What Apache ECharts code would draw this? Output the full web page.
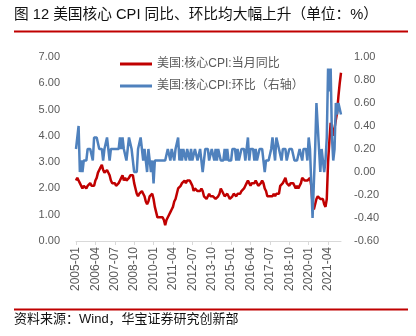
<!DOCTYPE html>
<html><head><meta charset="utf-8">
<script src="https://cdn.jsdelivr.net/npm/echarts@6/dist/echarts.min.js"></script>
<style>html,body{margin:0;padding:0;background:#fff}#c{width:416px;height:336px}</style>
</head><body><div id="c"></div>
<script>
// Month categories 2005-01 .. 2022-02
const firstYear = 2005;
const monthCount = 206;
const categories = [];
for (let i = 0; i < monthCount; i++) {
  const y = firstYear + Math.floor(i / 12);
  const m = (i % 12) + 1;
  categories.push(y + '-' + (m < 10 ? '0' + m : '' + m));
}

const seriesNames = ['美国:核心CPI:当月同比', '美国:核心CPI:环比（右轴）'];

// 美国:核心CPI:当月同比 (%), left axis
const coreYoY = [
  2.3,2.4,2.3,2.2,2.2,2.0,2.1,2.1,2.0,2.1,2.1,2.2,
  2.1,2.1,2.1,2.3,2.4,2.6,2.7,2.8,2.9,2.7,2.6,2.6,
  2.7,2.7,2.5,2.3,2.2,2.2,2.2,2.1,2.1,2.2,2.3,2.4,
  2.5,2.3,2.4,2.3,2.3,2.4,2.5,2.5,2.5,2.2,2.0,1.8,
  1.7,1.8,1.8,1.9,1.8,1.7,1.5,1.4,1.5,1.7,1.7,1.8,
  1.6,1.3,1.1,0.9,0.9,0.9,0.9,0.9,0.8,0.6,0.8,0.8,
  1.0,1.1,1.2,1.3,1.5,1.6,1.8,2.0,2.0,2.1,2.2,2.2,
  2.3,2.2,2.3,2.3,2.3,2.2,2.1,1.9,2.0,2.0,1.9,1.9,
  1.9,2.0,1.9,1.7,1.7,1.6,1.7,1.8,1.7,1.7,1.7,1.7,
  1.6,1.6,1.7,1.8,2.0,1.9,1.9,1.7,1.7,1.8,1.7,1.6,
  1.6,1.7,1.8,1.8,1.7,1.8,1.8,1.8,1.9,1.9,2.0,2.1,
  2.2,2.3,2.2,2.1,2.2,2.2,2.2,2.3,2.2,2.1,2.1,2.2,
  2.3,2.2,2.0,1.9,1.7,1.7,1.7,1.7,1.7,1.8,1.7,1.8,
  1.8,1.8,2.1,2.1,2.2,2.3,2.4,2.2,2.2,2.1,2.2,2.2,
  2.2,2.1,2.0,2.1,2.0,2.1,2.2,2.4,2.4,2.3,2.3,2.3,
  2.3,2.4,2.1,1.4,1.2,1.2,1.6,1.7,1.7,1.6,1.6,1.6,
  1.4,1.3,1.6,3.0,3.8,4.5,4.3,4.0,4.0,4.6,4.9,5.5,
  6.0,6.4
];

// 美国:核心CPI:环比 (%), right axis
const coreMoM = [
  0.2,0.2,0.4,0.0,0.1,0.0,0.1,0.1,0.1,0.2,0.2,0.2,
  0.2,0.1,0.3,0.3,0.3,0.3,0.2,0.2,0.2,0.1,0.2,0.2,
  0.3,0.2,0.1,0.2,0.2,0.2,0.2,0.2,0.2,0.2,0.3,0.2,
  0.3,0.2,0.2,0.1,0.2,0.3,0.3,0.2,0.1,0.0,0.0,0.0,
  0.2,0.2,0.3,0.3,0.1,0.2,0.1,0.0,0.2,0.2,0.0,0.1,
  -0.1,0.1,0.1,0.1,0.1,0.1,0.1,0.1,0.1,0.1,0.1,0.2,
  0.2,0.1,0.2,0.2,0.1,0.2,0.2,0.3,0.1,0.2,0.1,0.2,
  0.2,0.1,0.2,0.2,0.1,0.2,0.1,0.1,0.2,0.2,0.1,0.1,
  0.2,0.1,0.0,0.1,0.2,0.2,0.2,0.1,0.1,0.2,0.2,0.1,
  0.2,0.1,0.2,0.2,0.1,0.1,0.1,0.2,0.1,0.2,0.1,0.1,
  0.1,0.2,0.2,0.2,0.1,0.2,0.1,0.1,0.2,0.2,0.2,0.1,
  0.2,0.3,0.1,0.2,0.2,0.2,0.1,0.2,0.1,0.1,0.2,0.2,
  0.2,0.1,0.0,0.1,0.1,0.1,0.1,0.2,0.3,0.2,0.1,0.3,
  0.3,0.2,0.2,0.1,0.2,0.2,0.2,0.1,0.1,0.2,0.2,0.2,
  0.2,0.1,0.1,0.1,0.1,0.2,0.2,0.1,0.2,0.2,0.2,0.1,
  0.3,0.2,-0.1,-0.4,-0.1,0.2,0.6,0.4,0.2,0.0,0.2,0.1,
  0.0,0.1,0.3,0.9,0.7,0.9,0.3,0.1,0.2,0.6,0.5,0.6,
  0.6,0.5
];

const titleText = '图 12 美国核心 CPI 同比、环比均大幅上升（单位：%）';
const sourceText = '资料来源：Wind，华宝证券研究创新部';

const cjk = '"Liberation Sans", "Noto Sans CJK SC", sans-serif';
const num = '"Liberation Sans", sans-serif';
const grey = '#595959';
const red = '#c00000';
const blue = '#4f81bd';

const chart = echarts.init(document.getElementById('c'), null, {renderer: 'canvas'});
chart.setOption({
  animation: false,
  backgroundColor: '#fff',
  grid: {left: 76, right: 75, top: 57, bottom: 95, containLabel: false},
  legend: {
    orient: 'vertical', left: 115, top: 53,
    icon: 'rect', itemWidth: 32, itemHeight: 3, itemGap: 10,
    textStyle: {fontSize: 12, color: grey, fontFamily: cjk},
    data: seriesNames
  },
  xAxis: {
    type: 'category', data: categories, boundaryGap: false,
    axisLine: {show: true, lineStyle: {color: '#d9d9d9', width: 1}},
    axisTick: {show: true, interval: 14, length: 4, lineStyle: {color: '#d9d9d9'}},
    axisLabel: {interval: 14, rotate: 90, margin: 6, fontSize: 12, color: grey, fontFamily: num},
    splitLine: {show: false}
  },
  yAxis: [
    {type: 'value', min: 0, max: 7, interval: 1,
     axisLine: {show: false}, axisTick: {show: false}, splitLine: {show: false},
     axisLabel: {margin: 16, fontSize: 11, color: grey, fontFamily: num,
       formatter: v => v.toFixed(2)}},
    {type: 'value', min: -0.6, max: 1.0, interval: 0.2,
     axisLine: {show: false}, axisTick: {show: false}, splitLine: {show: false},
     axisLabel: {margin: 13, fontSize: 11, color: grey, fontFamily: num,
       formatter: v => (Math.abs(v) < 1e-9 ? 0 : v).toFixed(2)}}
  ],
  series: [
    {name: seriesNames[0], type: 'line', data: coreYoY, yAxisIndex: 0,
     symbol: 'none', color: red, lineStyle: {color: red, width: 2.5}},
    {name: seriesNames[1], type: 'line', data: coreMoM, yAxisIndex: 1,
     symbol: 'none', color: blue, lineStyle: {color: blue, width: 2.5}}
  ],
  graphic: [
    {type: 'text', left: 14, top: 8,
     style: {text: titleText, font: '14.7px ' + cjk, fill: '#111'}},
    {type: 'rect', shape: {x: 14, y: 30.5, width: 394, height: 2}, style: {fill: red}},
    {type: 'rect', shape: {x: 14, y: 308.5, width: 394, height: 2}, style: {fill: red}},
    {type: 'text', left: 14, top: 313,
     style: {text: sourceText, font: '13px ' + cjk, fill: '#111'}}
  ]
});
</script>
</body></html>
